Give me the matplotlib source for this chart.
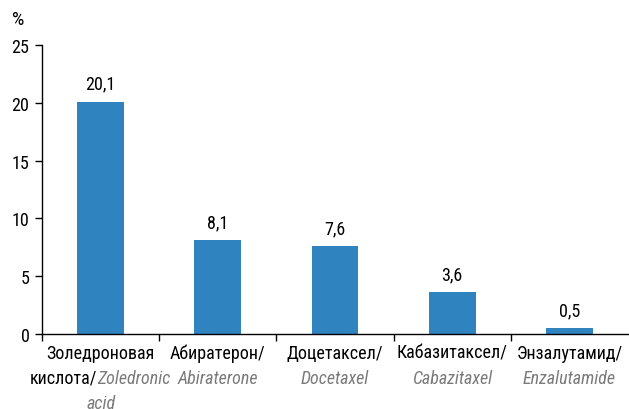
import matplotlib
matplotlib.use("Agg")
import matplotlib.pyplot as plt
from matplotlib.offsetbox import TextArea, HPacker, VPacker, AnnotationBbox

# data
ru_names = ["Золедроновая\nкислота/", "Абиратерон/", "Доцетаксел/", "Кабазитаксел/", "Энзалутамид/"]
en_names = ["Zoledronic\nacid", "Abiraterone", "Docetaxel", "Cabazitaxel", "Enzalutamide"]
values = [20.1, 8.1, 7.6, 3.6, 0.5]
value_labels = ["20,1", "8,1", "7,6", "3,6", "0,5"]
yticks = [0, 5, 10, 15, 20, 25]

FONT = ["Roboto Condensed", "DejaVu Sans"]
plt.rcParams["font.family"] = FONT
BAR = "#2F84C0"
GREY = "#7a7a7a"
FS = 13

fig = plt.figure(figsize=(6.29, 4.10), dpi=100)
ax = fig.add_axes([42 / 629, 75 / 410, 1 - 42 / 629 - 1 / 629, 289 / 410])

x = list(range(len(values)))
ax.bar(x, values, width=0.4, color=BAR)
for xi, v, lab in zip(x, values, value_labels):
    ax.text(xi, v + 0.8, lab, ha="center", va="bottom", fontsize=FS)

ax.set_xlim(-0.5, len(values) - 0.5)
ax.set_ylim(0, 25)
ax.set_yticks(yticks)
ax.set_yticklabels([str(t) for t in yticks], fontsize=FS)
ax.set_xticks([i + 0.5 for i in range(len(values) - 1)] + [-0.5])
ax.set_xticklabels([])
ax.tick_params(axis="both", direction="out", length=5, width=1, color="black")
ax.tick_params(axis="y", pad=4)
for s in ["top", "right"]:
    ax.spines[s].set_visible(False)
for s in ["left", "bottom"]:
    ax.spines[s].set_linewidth(1)

fig.text(12 / 629, 1 - 20 / 410, "%", fontsize=FS + 1, va="center", ha="left")

# category labels: black Russian + grey italic English
for xi, ru, en in zip(x, ru_names, en_names):
    black = dict(color="black", fontsize=FS, family=FONT)
    grey = dict(color=GREY, fontsize=FS, style="italic", family=FONT)
    if "\n" in ru:
        r1, r2 = ru.split("\n")
        e1, e2 = en.split("\n")
        rows = [
            TextArea(r1, textprops=black),
            HPacker(children=[TextArea(r2, textprops=black), TextArea(e1, textprops=grey)],
                    align="baseline", pad=0, sep=0),
            TextArea(e2, textprops=grey),
        ]
    else:
        rows = [TextArea(ru, textprops=black), TextArea(en, textprops=grey)]
    box = VPacker(children=rows, align="center", pad=0, sep=5)
    ab = AnnotationBbox(box, (xi, 0), xycoords=("data", "axes fraction"),
                        xybox=(0, -7), boxcoords="offset points",
                        box_alignment=(0.5, 1.0), frameon=False, pad=0)
    ax.add_artist(ab)

fig.savefig("out.png", dpi=100)
